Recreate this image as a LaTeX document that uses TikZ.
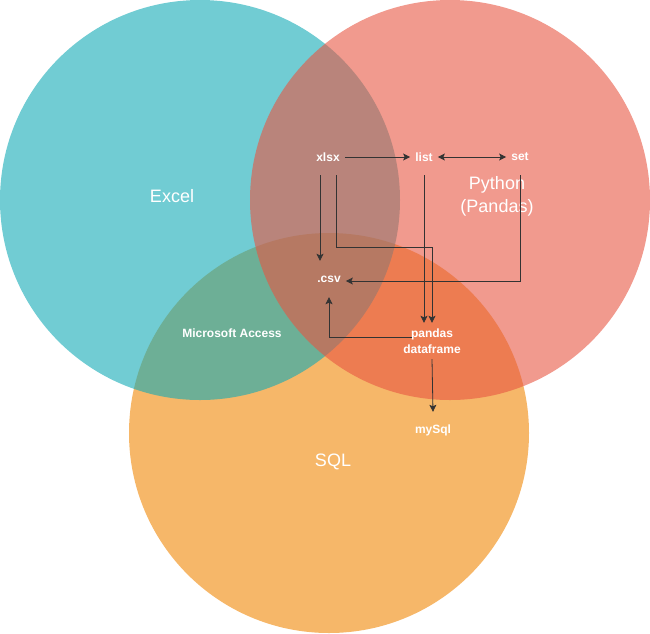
\documentclass[tikz,border=0pt]{standalone}
\usepackage{fontspec}
\setmainfont{Liberation Sans}
\usepackage{tikz}
\usetikzlibrary{arrows.meta,positioning,calc}

\definecolor{exceltone}{HTML}{12AAB5}
\definecolor{pythontone}{HTML}{E85642}
\definecolor{sqltone}{HTML}{F08705}

\tikzset{
  vennset/.style={draw=none,fill opacity=0.6},
  bigtext/.style={text=white,font=\fontsize{18}{23}\selectfont,align=center},
  tag/.style={text=white,font=\fontsize{12}{16}\selectfont\bfseries,align=center,
    inner xsep=5pt,inner ysep=0pt,minimum height=36pt},
  arr/.style={draw=black!80,line width=0.8pt,-{Stealth[length=7pt,width=7pt,inset=1.5pt]}},
  dblarr/.style={draw=black!80,line width=0.8pt,{Stealth[length=7pt,width=7pt,inset=1.5pt]}-{Stealth[length=7pt,width=7pt,inset=1.5pt]}}
}

\begin{document}
\begin{tikzpicture}[x=1pt,y=-1pt]
    \useasboundingbox (0,0) rectangle (650,633);

    % the three sets
    \fill[vennset,sqltone] (329,433) circle (200);
    \fill[vennset,exceltone] (200,200) circle (200);
    \fill[vennset,pythontone] (450,200) circle (200);

    \node[bigtext] (excel) at (172,196) {Excel};
    \node[bigtext] (python) at (497,196) {Python\\(Pandas)};
    \node[bigtext] (sql) at (333,462) {SQL};
    \node[tag,minimum height=0pt] (access) at (232,333) {Microsoft Access};

    % file types
    \node[tag] (xlsx) at (328,157) {xlsx};
    \node[tag] (list) at (424,157) {list};
    \node[tag] (set) at (520,157) {set};
    \node[tag] (csv) at (329,279) {.csv};
    \node[tag] (pandas) at (432,341) {pandas\\dataframe};
    \node[tag] (mysql) at (433,430) {mySql};

    % conversions
    \draw[arr] (xlsx) -- (list);
    \draw[dblarr] (list) -- (set);
    \draw[arr] ([xshift=-8pt]xlsx.south) -- ([xshift=-8pt]xlsx.south |- csv.north);
    \draw[arr] ([xshift=8pt]xlsx.south) -- ++(0,72) -| (pandas.north);
    \draw[arr] (list.south) -- (list.south |- pandas.north);
    \draw[arr] (set.south) |- ([yshift=-2pt]csv.east);
    \draw[arr] ([xshift=-20pt,yshift=4pt]pandas.center) -| (csv.south);
    \draw[arr] (pandas.south) -- (mysql.north);
\end{tikzpicture}
\end{document}
